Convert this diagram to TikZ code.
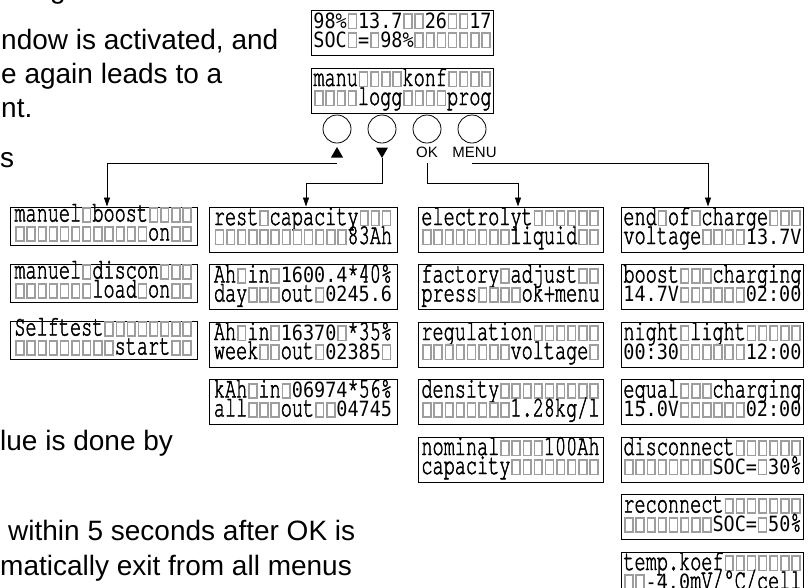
\documentclass[tikz,border=0pt]{standalone}
\usepackage{fontspec}
\setmainfont{Liberation Sans}
\newfontfamily\lcdfont[FakeStretch=0.64,FakeBold=1.5]{TeX Gyre Cursor}
\newfontfamily\lcdsans[FakeStretch=0.88]{DejaVu Sans Mono}
\usepackage{tikz}
\usetikzlibrary{positioning,arrows.meta,shapes.geometric}
\definecolor{lcdgray}{gray}{0.62}

% blank cell of the display, as wide as one character
\newcommand\sq{{\setbox0\hbox{0}\hbox to\wd0{\hss\color{lcdgray}\fboxsep=0pt\fboxrule=1.6pt\raisebox{0.5pt}{\fbox{\rule{0pt}{12.5pt}\hspace{6.2pt}}}\hss}}}
\newcommand\sqn[1]{\foreach\i in {1,...,#1}{\sq}}
\newcommand\sv[1]{{\lcdsans\fontsize{21}{19}\selectfont#1}}
\newcommand\rows[2]{\smash{#1}\rule[-3pt]{0pt}{16pt}\\\smash{#2}\rule[-3pt]{0pt}{16pt}}

\tikzset{
  lcd/.style={draw, line width=1pt, inner xsep=2pt, inner ysep=0pt, minimum height=45pt, align=left, font=\lcdfont\fontsize{29}{19}\selectfont},
  btn/.style={draw, circle, minimum size=28pt, inner sep=0pt, line width=0.8pt},
  tri/.style={fill, regular polygon, regular polygon sides=3, minimum size=14pt, inner sep=0pt},
  lbl/.style={font=\fontsize{15}{15}\selectfont, inner xsep=1pt, inner ysep=5pt},
  txt/.style={anchor=base west, font=\fontsize{28}{34}\selectfont, inner sep=0pt},
  arr/.style={-{Triangle[length=9pt,width=6pt]}, line width=0.8pt},
}

\begin{document}
\begin{tikzpicture}[x=1pt,y=-1pt]
\useasboundingbox (0,0) rectangle (808,587);
\clip (0,0) rectangle (808,587);

% text of the page round the picture
\node[txt] (t0) at (50,-2) {g};
\node[txt] (t1) at (1,49) {ndow is activated, and};
\node[txt] (t2) at (1,83) {e again leads to a};
\node[txt] (t3) at (1,117) {nt.};
\node[txt] (t4) at (0,167) {s};
\node[txt] (t5) at (0,450) {lue is done by};
\node[txt] (t6) at (8,540) {within 5 seconds after OK is};
\node[txt] (t7) at (0,575) {matically exit from all menus};

% display and keys
\node[lcd, minimum width=181pt, font=\lcdsans\fontsize{21}{19}\selectfont] (st) at (402.5,32.5) {\rows{98\%\sq13.7\sqn{2}26\sqn{2}17}{SOC\sq=\sq98\%\sqn{7}}};
\node[lcd, minimum width=181pt] (mn) at (402.5,90.5) {\rows{manu\sqn{4}konf\sqn{4}}{\sqn{4}logg\sqn{4}prog}};

\node[btn] (bup) at (337,129) {};
\node[btn] (bdn) at (382,129) {};
\node[btn] (bok) at (427,129) {};
\node[btn] (bmn) at (472,129) {};
\node[tri] (tup) at (337,154) {};
\node[tri, shape border rotate=180] (tdn) at (382,151) {};
\node[lbl] (lok) at (427,152.5) {OK};
\node[lbl] (lmn) at (474.5,152.5) {MENU};
\coordinate (cup) at (337,163);
\coordinate (cmn) at (472,163);

% manu
\node[lcd, minimum width=187pt, minimum height=38pt] (manu1) at (103.5,226) {\rows{manuel\sq boost\sqn{4}}{\sqn{12}on\sqn{2}}};
\node[lcd, minimum width=187pt, minimum height=38pt] (manu2) at (103.5,283) {\rows{manuel\sq discon\sqn{3}}{\sqn{7}load\sq on\sqn{2}}};
\node[lcd, minimum width=187pt, minimum height=38pt] (manu3) at (103.5,340) {\rows{Selftest\sqn{8}}{\sqn{9}start\sqn{2}}};

% logg
\node[lcd, minimum width=188pt] (logg1) at (303,229.5) {\rows{rest\sq capacity\sqn{3}}{\sqn{12}83Ah}};
\node[lcd, minimum width=188pt] (logg2) at (303,287) {\rows{Ah\sq in\sq\sv{1600.4}*40\%}{day\sqn{3}out\sq\sv{0245.6}}};
\node[lcd, minimum width=188pt] (logg3) at (303,344.5) {\rows{Ah\sq in\sq\sv{16370}\sq*35\%}{week\sqn{2}out\sq\sv{02385}\sq}};
\node[lcd, minimum width=188pt] (logg4) at (303,402) {\rows{kAh\sq in\sq\sv{06974}*56\%}{all\sqn{3}out\sqn{2}\sv{04745}}};

% konf
\node[lcd, minimum width=185pt] (konf1) at (510.5,229.5) {\rows{electrolyt\sqn{6}}{\sqn{8}liquid\sqn{2}}};
\node[lcd, minimum width=185pt] (konf2) at (510.5,287) {\rows{factory\sq adjust\sqn{2}}{press\sqn{4}ok+menu}};
\node[lcd, minimum width=185pt] (konf3) at (510.5,344.5) {\rows{regulation\sqn{6}}{\sqn{8}voltage\sq}};
\node[lcd, minimum width=185pt] (konf4) at (510.5,402) {\rows{density\sqn{9}}{\sqn{8}1.28kg/l}};
\node[lcd, minimum width=185pt] (konf5) at (510.5,459.5) {\rows{nominal\sqn{4}100Ah}{capacity\sqn{8}}};

% prog
\node[lcd, minimum width=181pt] (prog1) at (712.5,229.5) {\rows{end\sq of\sq charge\sqn{3}}{voltage\sqn{4}\sv{13.7V}}};
\node[lcd, minimum width=181pt] (prog2) at (712.5,287) {\rows{boost\sqn{3}charging}{\sv{14.7V}\sqn{6}\sv{02:00}}};
\node[lcd, minimum width=181pt] (prog3) at (712.5,344.5) {\rows{night\sq light\sqn{5}}{\sv{00:30}\sqn{6}\sv{12:00}}};
\node[lcd, minimum width=181pt] (prog4) at (712.5,402) {\rows{equal\sqn{3}charging}{\sv{15.0V}\sqn{6}\sv{02:00}}};
\node[lcd, minimum width=181pt] (prog5) at (712.5,459.5) {\rows{disconnect\sqn{6}}{\sqn{8}\sv{SOC=}\sq\sv{30}\%}};
\node[lcd, minimum width=181pt] (prog6) at (712.5,517) {\rows{reconnect\sqn{7}}{\sqn{8}\sv{SOC=}\sq\sv{50}\%}};
\node[lcd, minimum width=181pt] (prog7) at (712.5,574.5) {\rows{temp.koef\sqn{7}}{\sqn{2}\sv{-4.0}mV/°C/cell}};

\draw[arr] (cup) -| ([xshift=3.5pt]manu1.north);
\draw[arr] (tdn.south) -- ++(0,25) -| ([xshift=3pt]logg1.north);
\draw[arr] (lok.south) -- ++(0,20) -| ([xshift=7.5pt]konf1.north);
\draw[arr] (cmn) -| ([xshift=-4.5pt]prog1.north);
\end{tikzpicture}
\end{document}
